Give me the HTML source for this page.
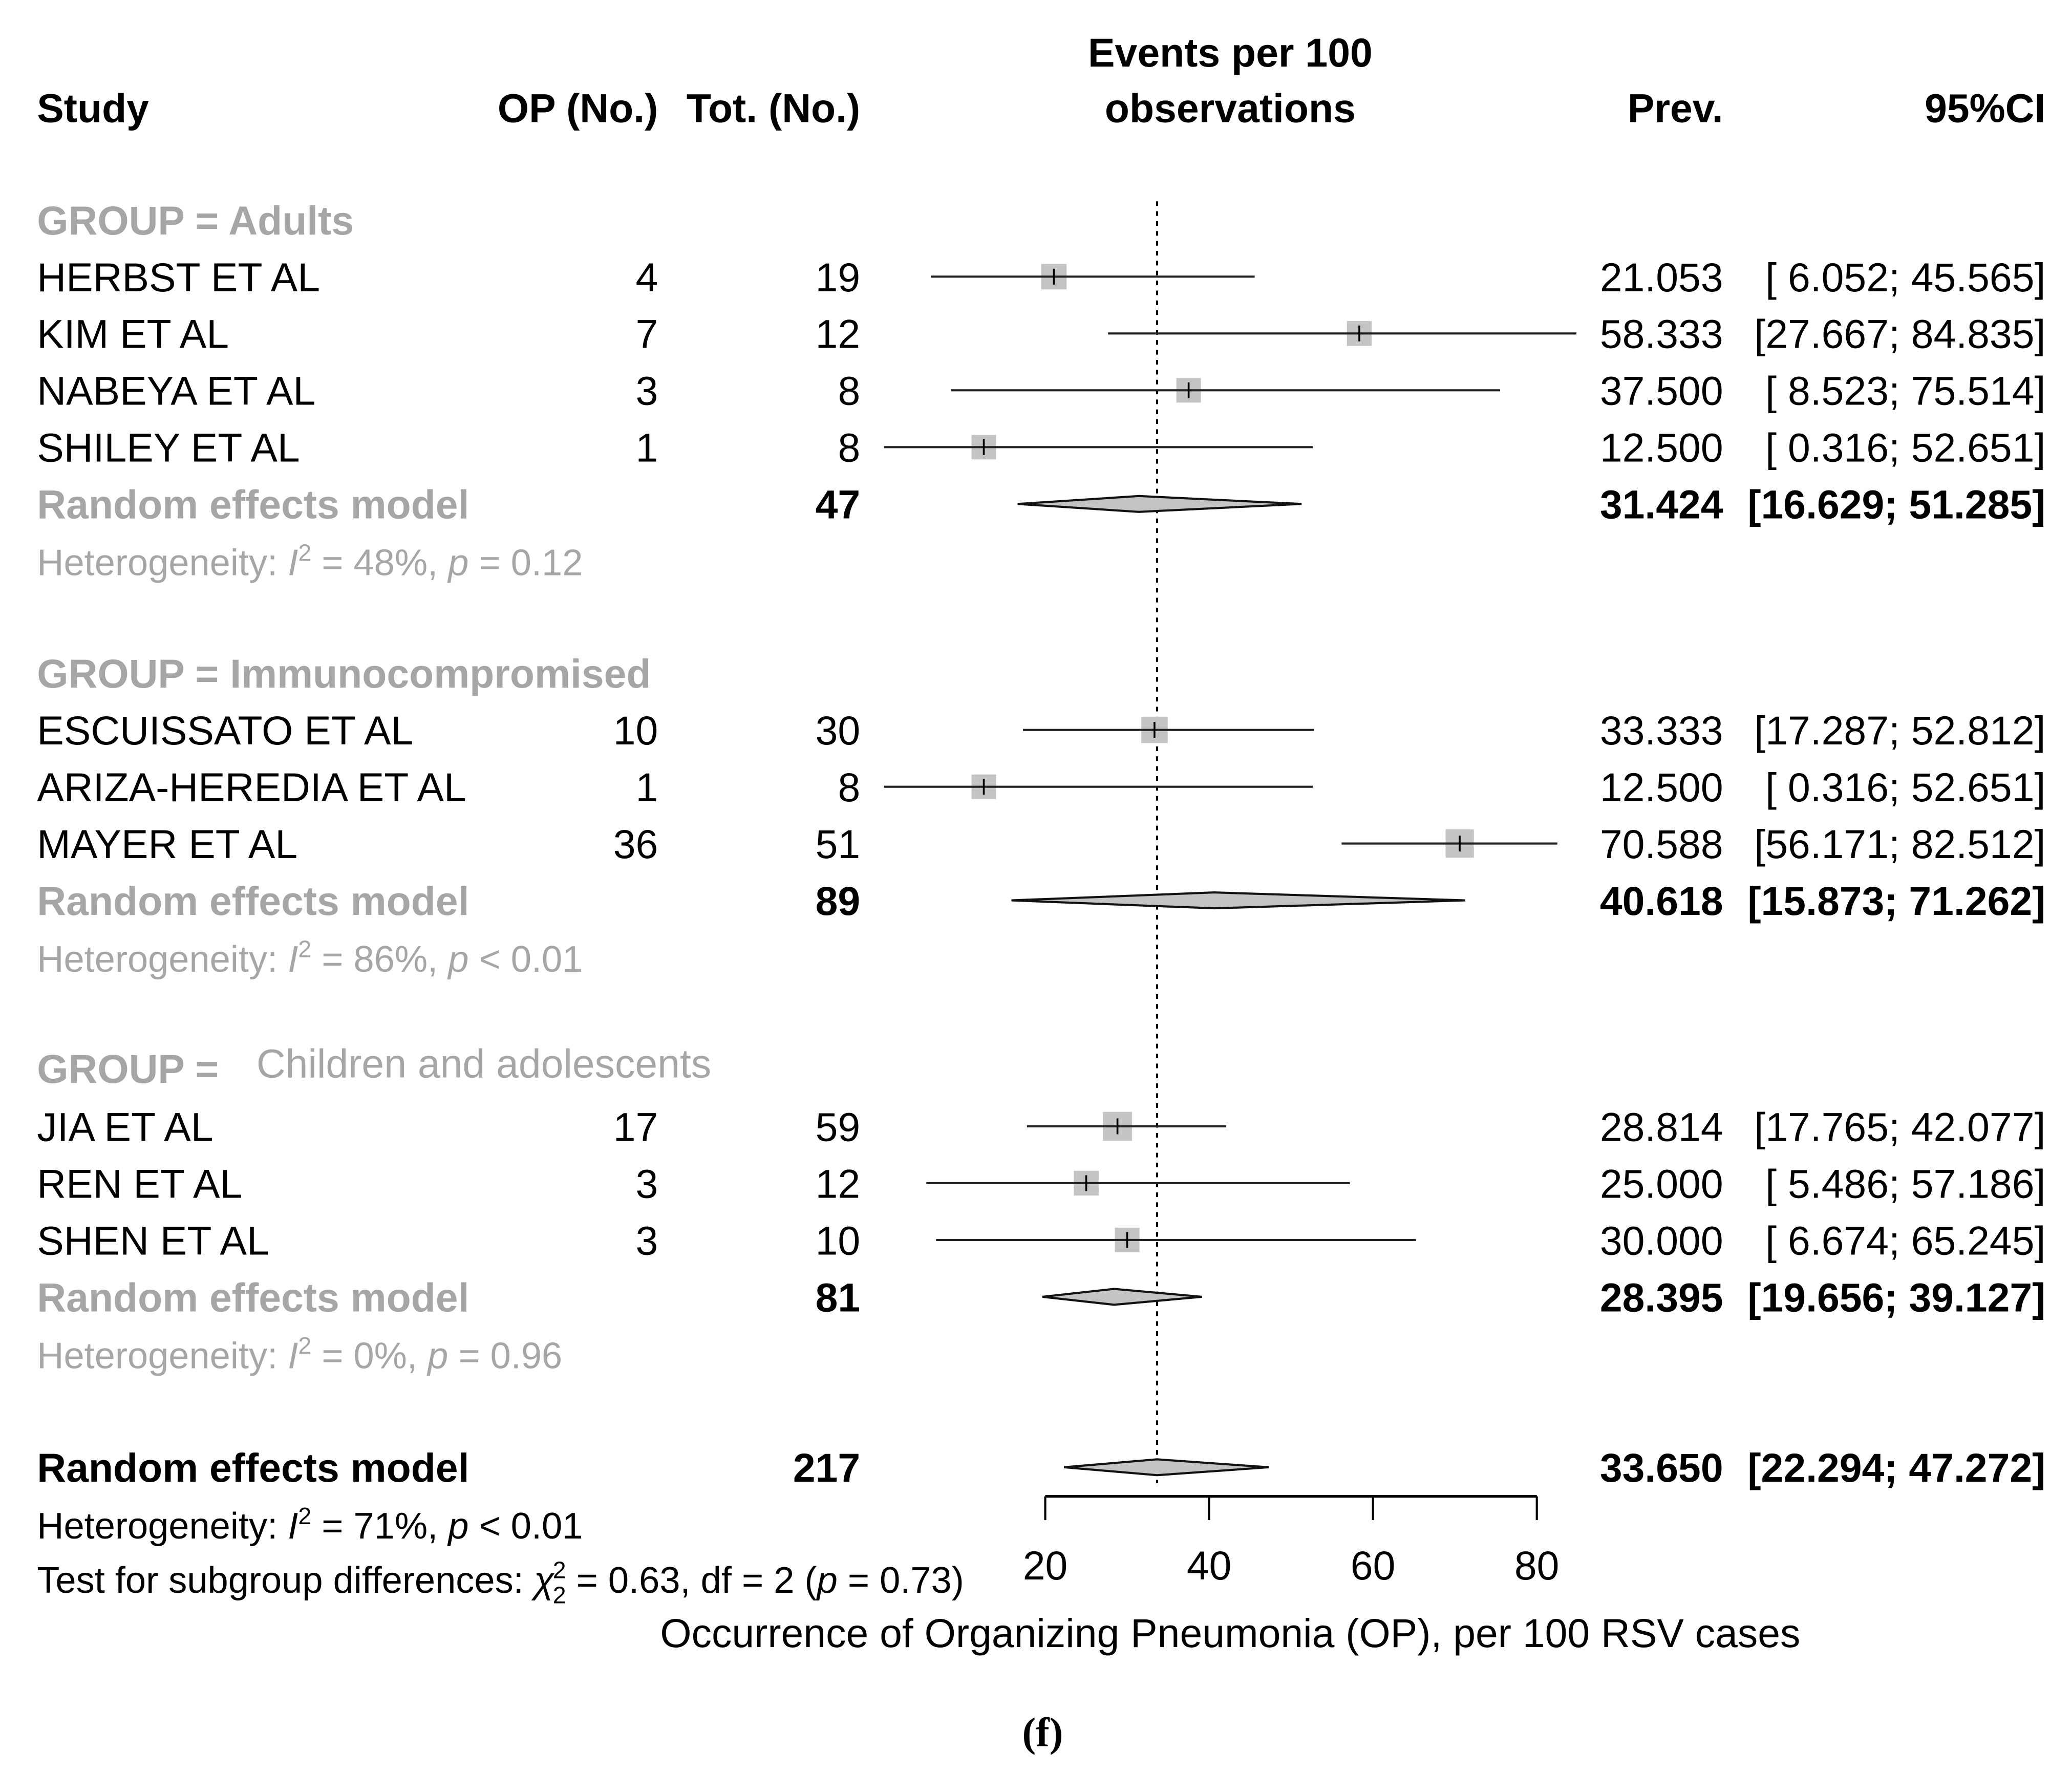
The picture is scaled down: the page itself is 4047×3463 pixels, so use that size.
<!DOCTYPE html>
<html><head><meta charset="utf-8"><style>
html,body{margin:0;padding:0;background:#fff}
svg{display:block}
text{font-family:"Liberation Sans",Arial,sans-serif}
</style></head><body>
<svg id="chart" width="4047" height="3463" viewBox="0 0 1568 1341" xmlns="http://www.w3.org/2000/svg">
<g id="headers" font-weight="bold" font-size="30.5" fill="#000">
<text x="931" y="50" text-anchor="middle">Events per 100</text>
<text x="28" y="92">Study</text>
<text x="498" y="92" text-anchor="end">OP (No.)</text>
<text x="651" y="92" text-anchor="end">Tot. (No.)</text>
<text x="931" y="92" text-anchor="middle">observations</text>
<text x="1304" y="92" text-anchor="end">Prev.</text>
<text x="1548" y="92" text-anchor="end">95%CI</text>
</g>
<g id="rows"></g>
<g id="axis"></g>
<text x="931" y="1246" font-size="30.5" text-anchor="middle">Occurrence of Organizing Pneumonia (OP), per 100 RSV cases</text>
<text x="789" y="1321" font-size="31" font-weight="bold" text-anchor="middle" style="font-family:'Liberation Serif',serif">(f)</text>
</svg>
<script>
const studies = ["HERBST ET AL","KIM ET AL","NABEYA ET AL","SHILEY ET AL","ESCUISSATO ET AL","ARIZA-HEREDIA ET AL","MAYER ET AL","JIA ET AL","REN ET AL","SHEN ET AL"];
const opCounts = [4,7,3,1,10,1,36,17,3,3];
const totCounts = [19,12,8,8,30,8,51,59,12,10];
const prevalence = [21.053,58.333,37.5,12.5,33.333,12.5,70.588,28.814,25.0,30.0];
const ciLow = [6.052,27.667,8.523,0.316,17.287,0.316,56.171,17.765,5.486,6.674];
const ciHigh = [45.565,84.835,75.514,52.651,52.812,52.651,82.512,42.077,57.186,65.245];
const studyBaselines = [220,263,306,349,563,606,649,863,906,949];
const groupNames = ["GROUP = Adults","GROUP = Immunocompromised","GROUP =   Children and adolescents"];
const groupTotals = [47,89,81];
const groupEst = [31.424,40.618,28.395];
const groupLow = [16.629,15.873,19.656];
const groupHigh = [51.285,71.262,39.127];
const groupI2 = ["48%","86%","0%"];
const groupP = ["= 0.12","< 0.01","= 0.96"];
const groupBaselines = [177,520,819];
const modelBaselines = [392,692,992];
const hetBaselines = [435,735,1035];
const overallTotal = 217, overallEst = 33.65, overallLow = 22.294, overallHigh = 47.272;
const xTicks = [20,40,60,80];

const NS="http://www.w3.org/2000/svg";
const rows=document.getElementById('rows'), axis=document.getElementById('axis');
const FS=30.5, HS=28;
const x = v => 791 + (v-20)*6.2;
function mk(tag, attrs, parent, txt){const e=document.createElementNS(NS,tag);for(const k in attrs)e.setAttribute(k,attrs[k]);if(txt!==undefined)e.textContent=txt;parent.appendChild(e);return e;}
const f = v => v.toFixed(3);
const ciStr = (l,h) => "[" + (l<10?" ":"") + f(l) + "; " + f(h) + "]";
const GRAY="#a6a6a6";

let ref = mk('line',{x1:x(overallEst),x2:x(overallEst),y1:152,y2:1122,stroke:'#000','stroke-width':1.6,'stroke-dasharray':'3.5,4'},rows);



studies.forEach((s,i)=>{
  const b=studyBaselines[i], cy=b-11;
  let t=mk('text',{x:28,y:b,'font-size':FS},rows,s);
  
  
  t=mk('text',{x:498,y:b,'font-size':FS,'text-anchor':'end'},rows,opCounts[i]);
  
  
  t=mk('text',{x:651,y:b,'font-size':FS,'text-anchor':'end'},rows,totCounts[i]);
  
  
  t=mk('text',{x:1304,y:b,'font-size':FS,'text-anchor':'end'},rows,f(prevalence[i]));
  
  
  t=mk('text',{x:1548,y:b,'font-size':FS,'text-anchor':'end'},rows,ciStr(ciLow[i],ciHigh[i]));
  
  
  const sz = 18 + Math.min(4, totCounts[i]/15);
  let sq=mk('rect',{x:x(prevalence[i])-sz/2,y:cy-sz/2,width:sz,height:sz,fill:'#c4c4c4'},rows);
  
  
  let ln=mk('line',{x1:x(ciLow[i]),x2:x(ciHigh[i]),y1:cy,y2:cy,stroke:'#222','stroke-width':1.6},rows);
  
  
  let tk=mk('line',{x1:x(prevalence[i]),x2:x(prevalence[i]),y1:cy-6,y2:cy+6,stroke:'#000','stroke-width':1.4},rows);
  
  
});

function diamond(est,lo,hi,cy,name){
  const d=mk('polygon',{points:`${x(lo)},${cy} ${x(est)},${cy-6} ${x(hi)},${cy} ${x(est)},${cy+6}`,fill:'#c4c4c4',stroke:'#111','stroke-width':1.6},rows);
  
  
}

groupNames.forEach((g,i)=>{
  const gb=groupBaselines[i], rb=modelBaselines[i], hb=hetBaselines[i];
  let t=mk('text',{x:28,y:gb,'font-size':FS,'font-weight':'bold',fill:GRAY},rows,g);
  if(i===2){t.textContent='';mk('tspan',{'font-weight':'bold'},t,'GROUP = ');mk('tspan',{'font-weight':'normal',dx:20,dy:-4},t,'Children and adolescents');}
  
  
  t=mk('text',{x:28,y:rb,'font-size':FS,'font-weight':'bold',fill:GRAY},rows,'Random effects model');
  
  
  t=mk('text',{x:651,y:rb,'font-size':FS,'font-weight':'bold','text-anchor':'end'},rows,groupTotals[i]);
  
  
  t=mk('text',{x:1304,y:rb,'font-size':FS,'font-weight':'bold','text-anchor':'end'},rows,f(groupEst[i]));
  
  
  t=mk('text',{x:1548,y:rb,'font-size':FS,'font-weight':'bold','text-anchor':'end'},rows,ciStr(groupLow[i],groupHigh[i]));
  
  
  diamond(groupEst[i],groupLow[i],groupHigh[i],rb-11,'subgroup-diamond');
  t=mk('text',{x:28,y:hb,'font-size':HS,fill:GRAY},rows);
  mk('tspan',{},t,'Heterogeneity: ');mk('tspan',{'font-style':'italic'},t,'I');
  mk('tspan',{'font-size':18,dy:-11},t,'2');mk('tspan',{dy:11},t,' = '+groupI2[i]+', ');
  mk('tspan',{'font-style':'italic'},t,'p');mk('tspan',{},t,' '+groupP[i]);
  
  
});

let t=mk('text',{x:28,y:1121,'font-size':FS,'font-weight':'bold'},rows,'Random effects model');


t=mk('text',{x:651,y:1121,'font-size':FS,'font-weight':'bold','text-anchor':'end'},rows,overallTotal);


t=mk('text',{x:1304,y:1121,'font-size':FS,'font-weight':'bold','text-anchor':'end'},rows,f(overallEst));


t=mk('text',{x:1548,y:1121,'font-size':FS,'font-weight':'bold','text-anchor':'end'},rows,ciStr(overallLow,overallHigh));


diamond(overallEst,overallLow,overallHigh,1110,'overall-diamond');

t=mk('text',{x:28,y:1164,'font-size':HS},rows);
mk('tspan',{},t,'Heterogeneity: ');mk('tspan',{'font-style':'italic'},t,'I');
mk('tspan',{'font-size':18,dy:-11},t,'2');mk('tspan',{dy:11},t,' = 71%, ');
mk('tspan',{'font-style':'italic'},t,'p');mk('tspan',{},t,' < 0.01');


t=mk('text',{x:28,y:1205,'font-size':HS},rows);
mk('tspan',{},t,'Test for subgroup differences: ');mk('tspan',{'font-style':'italic'},t,'\u03C7');
mk('tspan',{'font-size':18,dy:-11,dx:-1},t,'2');mk('tspan',{'font-size':18,dy:19,dx:-10},t,'2');
mk('tspan',{dy:-8},t,' = 0.63, df = 2 (');mk('tspan',{'font-style':'italic'},t,'p');mk('tspan',{},t,' = 0.73)');



let ax=mk('line',{x1:x(xTicks[0]),x2:x(xTicks[xTicks.length-1]),y1:1132,y2:1132,stroke:'#000','stroke-width':2},axis);


xTicks.forEach(v=>{
  let tk=mk('line',{x1:x(v),x2:x(v),y1:1132,y2:1150,stroke:'#000','stroke-width':1.6},axis);
  
  
  let tl=mk('text',{x:x(v),y:1195,'font-size':FS,'text-anchor':'middle'},axis,v);
  
  
});
</script>
</body></html>
